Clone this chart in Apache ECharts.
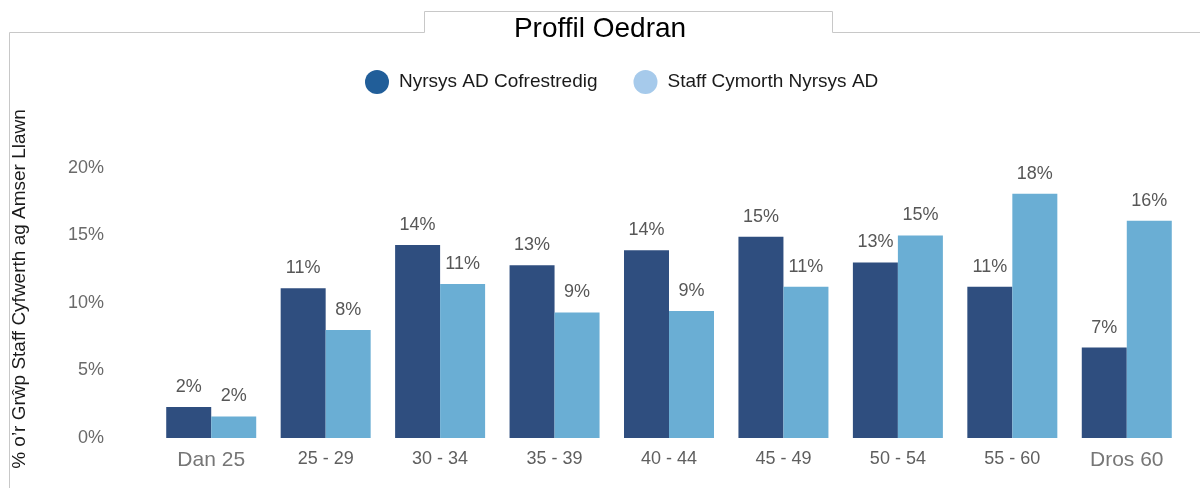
<!DOCTYPE html>
<html>
<head>
<meta charset="utf-8">
<script src="https://cdn.jsdelivr.net/npm/echarts@6/dist/echarts.min.js"></script>
<style>
  html, body { margin: 0; padding: 0; background: #ffffff; }
  #chart { width: 1200px; height: 488px; }
</style>
</head>
<body>
<div id="chart"></div>
<script>
// Age bands
const categories = ['Dan 25', '25 - 29', '30 - 34', '35 - 39', '40 - 44', '45 - 49', '50 - 54', '55 - 60', 'Dros 60'];
// Share of each staff group (% of full-time equivalent)
const registeredNurses = [2.3, 11.1, 14.3, 12.8, 13.9, 14.9, 13.0, 11.2, 6.7];
const supportStaff = [1.6, 8.0, 11.4, 9.3, 9.4, 11.2, 15.0, 18.1, 16.1];
const seriesNames = ['Nyrsys AD Cofrestredig', 'Staff Cymorth Nyrsys AD'];
const yTicks = { min: 0, max: 20, interval: 5 };

const FONT = '"Liberation Sans", Arial, sans-serif';
const barColors = ['#2f4e7f', '#6aaed4'];
const legendColors = ['#215e99', '#a6caeb'];

const chart = echarts.init(document.getElementById('chart'), null, { renderer: 'canvas' });

const labelOpt = {
  show: true,
  position: 'top',
  distance: 11,
  fontSize: 18,
  fontFamily: FONT,
  color: '#575757',
  formatter: p => Math.round(p.value) + '%'
};

chart.setOption({
  backgroundColor: '#ffffff',
  animation: false,
  title: {
    text: 'Proffil Oedran',
    left: 'center',
    top: 15,
    padding: 0,
    textStyle: { fontSize: 28, fontWeight: 'normal', color: '#000000', fontFamily: FONT }
  },
  legend: {
    left: 360,
    top: 65,
    icon: 'circle',
    itemWidth: 24,
    itemHeight: 24,
    itemGap: 36,
    textStyle: { fontSize: 19, color: '#1a1a1a', fontFamily: FONT, padding: [0, 0, 0, 5] },
    data: seriesNames.map((n, i) => ({ name: n, itemStyle: { color: legendColors[i] } }))
  },
  grid: { left: 154, right: 16, top: 168, bottom: 50 },
  xAxis: {
    type: 'category',
    data: categories.map((c, i) => (i === 0 || i === categories.length - 1)
      ? { value: c, textStyle: { fontSize: 21, color: '#767676' } }
      : c),
    axisLine: { show: false },
    axisTick: { show: false },
    axisLabel: { fontSize: 18, color: '#5f5f5f', fontFamily: FONT, margin: 12 }
  },
  yAxis: {
    type: 'value',
    min: yTicks.min,
    max: yTicks.max,
    interval: yTicks.interval,
    splitLine: { show: false },
    axisLine: { show: false },
    axisTick: { show: false },
    axisLabel: { fontSize: 18, color: '#6a6a6a', fontFamily: FONT, margin: 50, formatter: '{value}%' }
  },
  series: [
    {
      name: seriesNames[0],
      type: 'bar',
      data: registeredNurses,
      barWidth: 45,
      barGap: '0%',
      itemStyle: { color: barColors[0] },
      label: labelOpt
    },
    {
      name: seriesNames[1],
      type: 'bar',
      data: supportStaff,
      barWidth: 45,
      barGap: '0%',
      itemStyle: { color: barColors[1] },
      label: labelOpt
    }
  ],
  graphic: [
    {
      type: 'polyline',
      silent: true,
      shape: { points: [[9.5, 488], [9.5, 32.5], [424.5, 32.5], [424.5, 11.5], [832.5, 11.5], [832.5, 32.5], [1200, 32.5]] },
      style: { stroke: '#c8c8c8', lineWidth: 1, fill: null }
    },
    {
      type: 'text',
      x: 20,
      y: 289,
      rotation: Math.PI / 2,
      style: {
        text: '% o\u2019r Grŵp Staff Cyfwerth ag Amser Llawn',
        fontSize: 19,
        fontFamily: FONT,
        fill: '#1a1a1a',
        textAlign: 'center',
        textVerticalAlign: 'middle'
      }
    }
  ]
});
</script>
</body>
</html>
